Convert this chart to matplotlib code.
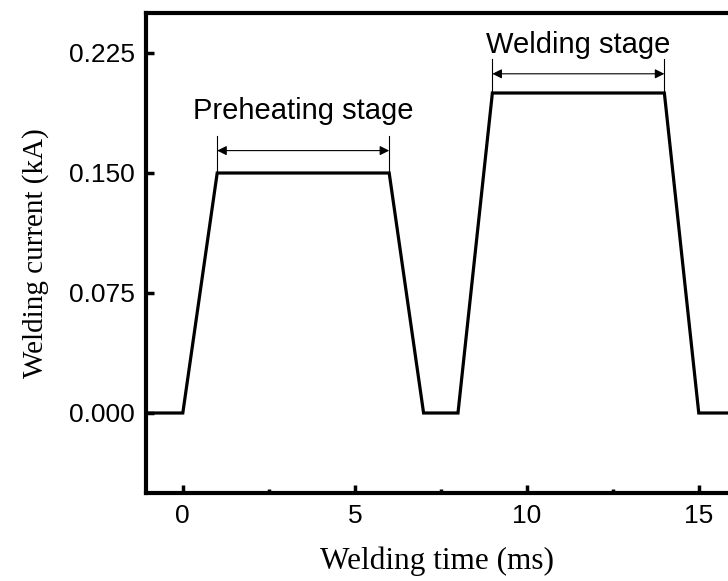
import numpy as np
import matplotlib
matplotlib.use("Agg")
import matplotlib.pyplot as plt

# welding current profile (time in ms, current in kA)
time_ms = [-1, 0, 1, 6, 7, 8, 9, 14, 15, 16]
current_ka = [0.0, 0.0, 0.150, 0.150, 0.0, 0.0, 0.200, 0.200, 0.0, 0.0]

x_ticks = [0, 5, 10, 15]
y_ticks = [0.000, 0.075, 0.150, 0.225]
y_tick_labels = ["0.000", "0.075", "0.150", "0.225"]

# stage annotations: (label, start, end, level, arrow y, text y)
stages = [
    ("Preheating stage", 1, 6, 0.150, 0.164, 0.189),
    ("Welding stage", 9, 14, 0.200, 0.212, 0.230),
]

sans = ["Liberation Sans", "Arial", "DejaVu Sans"]
serif = ["Liberation Serif", "Times New Roman", "DejaVu Serif"]

fig = plt.figure(figsize=(7.28, 5.81), dpi=100)
ax = fig.add_axes([146 / 728, 88 / 581, 1 - 146 / 728, 480 / 581])

ax.plot(time_ms, current_ka, color="black", lw=2.3, solid_joinstyle="miter")

for label, t0, t1, level, ya, yt in stages:
    ax.annotate("", xy=(t0, ya), xytext=(t1, ya),
                arrowprops=dict(arrowstyle="<|-|>", color="black", lw=0.8,
                                mutation_scale=14, shrinkA=0, shrinkB=0))
    for t in (t0, t1):
        ax.plot([t, t], [level, ya + 0.009], color="black", lw=0.8)
    ax.text((t0 + t1) / 2, yt, label, ha="center", va="center",
            fontsize=21, family=sans)

ax.set_xlim(-1.07, 15.85)
ax.set_ylim(-0.05, 0.25)
ax.set_xticks(x_ticks)
ax.set_xticks([2.5, 7.5, 12.5], minor=True)
ax.set_yticks(y_ticks)
ax.set_yticklabels(y_tick_labels)

for side in ("left", "bottom", "top"):
    ax.spines[side].set_linewidth(3)
ax.spines["right"].set_visible(False)

ax.tick_params(axis="both", which="major", direction="in", length=6, width=2.5,
               labelsize=19, pad=8)
ax.tick_params(axis="x", which="minor", direction="in", length=3, width=2.5)
for lab in ax.get_xticklabels() + ax.get_yticklabels():
    lab.set_family(sans)

ax.set_xlabel("Welding time (ms)", fontsize=22.5, family=serif, labelpad=13)
ax.set_ylabel("Welding current (kA)", fontsize=21, family=serif, labelpad=14)

fig.savefig("out.png", dpi=100)
